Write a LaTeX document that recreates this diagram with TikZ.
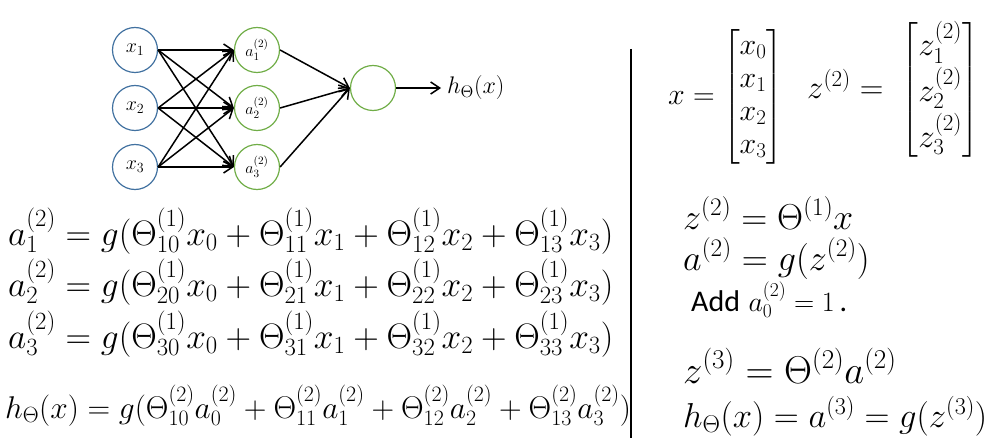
\RequirePackage{fix-cm}
\documentclass[tikz,border=0pt]{standalone}
\usepackage{amsmath}
\usepackage{fontspec}
\usetikzlibrary{arrows.meta}
\newfontfamily\addfont{Carlito}
\definecolor{inblue}{RGB}{65,113,160}
\definecolor{hidgreen}{RGB}{112,173,71}
\tikzset{
  InNode/.style={circle,draw=inblue,line width=1.2pt,minimum size=45pt,inner sep=0pt,
    font=\fontsize{20}{24}\selectfont},
  HidNode/.style={circle,draw=hidgreen,line width=1.2pt,minimum size=45pt,inner sep=0pt,
    font=\fontsize{16}{19}\selectfont},
  EdgeStyle/.style={-{Straight Barb[length=9pt,width=12pt]},line width=1.5pt},
  BigEq/.style={inner sep=0pt,anchor=base west,font=\fontsize{35.4}{42}\selectfont},
  MidEq/.style={inner sep=0pt,anchor=base west,font=\fontsize{36.1}{43}\selectfont}
}

\begin{document}
\begin{tikzpicture}[x=1pt,y=-1pt]
  \useasboundingbox (0,0) rectangle (1001,441);

  % network
  \node[InNode] (x1) at (135,50) {$x_1$};
  \node[InNode] (x2) at (135,108) {$x_2$};
  \node[InNode] (x3) at (135,167) {$x_3$};
  \node[HidNode] (a1) at (257,50) {$a_1^{(2)}$};
  \node[HidNode] (a2) at (257,108) {$a_2^{(2)}$};
  \node[HidNode] (a3) at (257,167) {$a_3^{(2)}$};
  \node[HidNode] (out) at (373,88) {};
  \node[inner xsep=6pt,inner ysep=0pt,anchor=west,font=\fontsize{24}{29}\selectfont] (hx) at (441,88) {$h_\Theta(x)$};

  \foreach \i in {1,2,3}
    \foreach \j in {1,2,3}
      \draw[EdgeStyle] (x\i.east) -- (a\j.west);
  \foreach \j in {1,2,3}
    \draw[EdgeStyle] (a\j.east) -- (out.west);
  \draw[EdgeStyle] (out) -- (hx);

  % divider
  \coordinate (divtop) at (631,49);
  \coordinate (divbot) at (631,438);
  \draw[line width=1.5pt] (divtop) -- (divbot);

  % left equations
  \node[BigEq] (eqa1) at (8,245)
    {$a_1^{(2)} = g(\Theta_{10}^{(1)}x_0 + \Theta_{11}^{(1)}x_1 + \Theta_{12}^{(1)}x_2 + \Theta_{13}^{(1)}x_3)$};
  \node[BigEq] (eqa2) at (8,296)
    {$a_2^{(2)} = g(\Theta_{20}^{(1)}x_0 + \Theta_{21}^{(1)}x_1 + \Theta_{22}^{(1)}x_2 + \Theta_{23}^{(1)}x_3)$};
  \node[BigEq] (eqa3) at (8,348)
    {$a_3^{(2)} = g(\Theta_{30}^{(1)}x_0 + \Theta_{31}^{(1)}x_1 + \Theta_{32}^{(1)}x_2 + \Theta_{33}^{(1)}x_3)$};
  \node[inner sep=0pt,anchor=base west,font=\fontsize{31.4}{38}\selectfont] (eqh) at (5,418)
    {$h_\Theta(x) = g(\Theta_{10}^{(2)}a_0^{(2)} + \Theta_{11}^{(2)}a_1^{(2)} + \Theta_{12}^{(2)}a_2^{(2)} + \Theta_{13}^{(2)}a_3^{(2)})$};

  % right side
  \node[inner sep=0pt,anchor=west,font=\fontsize{30}{33}\selectfont] (xvec) at (668,97)
    {$x = \begin{bmatrix} x_0\\ x_1\\ x_2\\ x_3 \end{bmatrix}$};
  \node[inner sep=0pt,anchor=west,font=\fontsize{32.8}{38}\selectfont] (zvec) at (807,90)
    {$z^{(2)} = \;\begin{bmatrix} z_1^{(2)}\\ z_2^{(2)}\\ z_3^{(2)} \end{bmatrix}$};

  \node[MidEq] (eqz2) at (683,229) {$z^{(2)} = \Theta^{(1)}x$};
  \node[MidEq] (eqa) at (683,270) {$a^{(2)} = g(z^{(2)})$};
  \node[inner sep=0pt,anchor=base west,font=\fontsize{28}{33}\selectfont] (eqadd) at (691,311)
    {{\addfont\fontsize{30}{36}\selectfont Add} $a_0^{(2)} = 1$\,{\addfont\fontsize{30}{36}\selectfont .}};
  \node[inner sep=0pt,anchor=base west,font=\fontsize{38.8}{46}\selectfont] (eqz3) at (683,383) {$z^{(3)} = \Theta^{(2)}a^{(2)}$};
  \node[inner sep=0pt,anchor=base west,font=\fontsize{34.6}{41}\selectfont] (eqhout) at (683,427) {$h_\Theta(x) = a^{(3)} = g(z^{(3)})$};
\end{tikzpicture}
\end{document}
